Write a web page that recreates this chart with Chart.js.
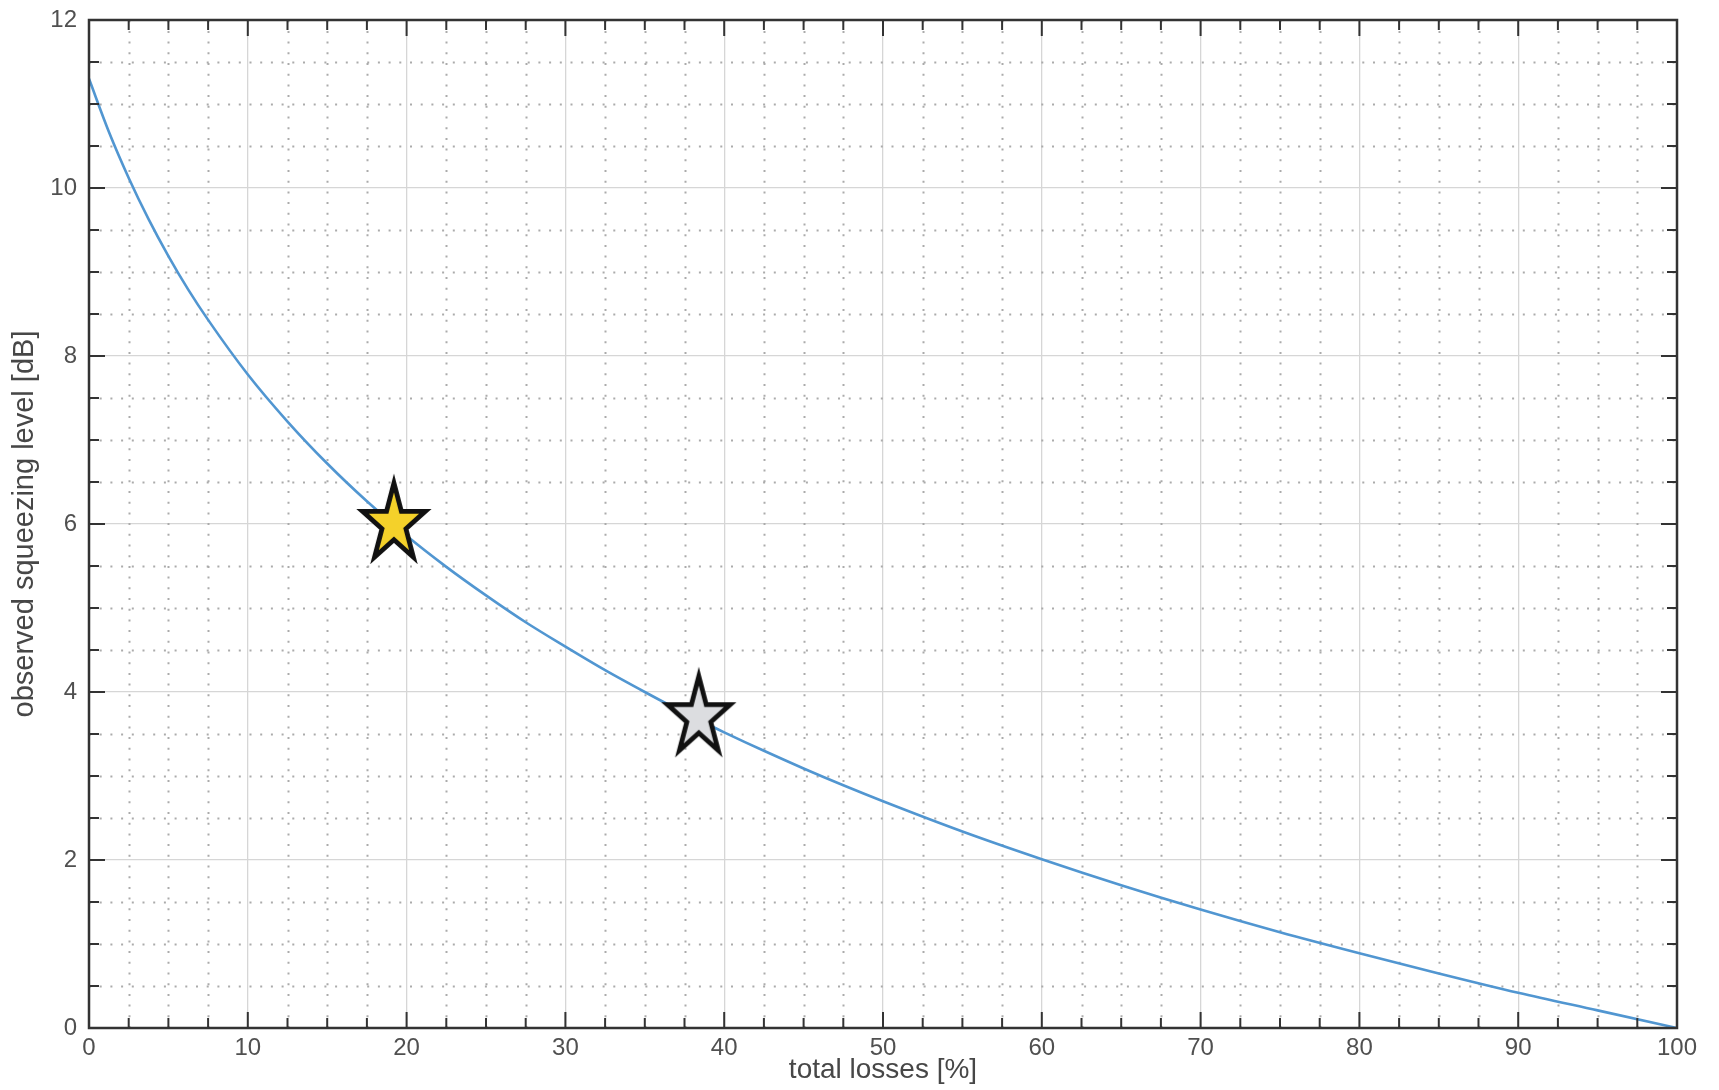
<!DOCTYPE html>
<html>
<head>
<meta charset="utf-8">
<script src="https://cdn.jsdelivr.net/npm/chart.js@4.4.1/dist/chart.umd.min.js"></script>
<style>
    html, body { margin: 0; padding: 0; background: #fff; }
    #wrap { width: 1719px; height: 1090px; position: relative; }
</style>
</head>
<body>
<div id="wrap"><canvas id="lossChart"></canvas></div>
<script>
// Values
const lossPct = [0, 1.25, 2.5, 3.75, 5, 6.25, 7.5, 10, 12.5, 15, 17.5, 20, 22.5, 25, 27.5, 30, 32.5, 35, 37.5, 40,
    42.5, 45, 47.5, 50, 55, 60, 65, 70, 75, 80, 85, 90, 95, 100];
const squeezeDb = [11.3, 10.67, 10.12, 9.63, 9.19, 8.79, 8.43, 7.78, 7.22, 6.72, 6.27, 5.86, 5.49, 5.15, 4.83, 4.54, 4.26, 4.0, 3.75, 3.52,
    3.3, 3.09, 2.89, 2.7, 2.34, 2.01, 1.7, 1.41, 1.14, 0.89, 0.65, 0.42, 0.21, 0];

const starLoss = [19.2, 38.4];
const starDb = [6.0, 3.7];
const starFills = ['#f4d12a', '#dcdde0'];

const FONT = "'Liberation Sans', Arial, sans-serif";

// 5-point star marker, a bit taller than wide like the reference
function makeStar(fill) {
    const c = document.createElement('canvas');
    c.width = 100;
    c.height = 110;
    const g = c.getContext('2d');
    const cx = 50, cy = 55, rx = 33, ry = 41, inner = 0.382;
    g.beginPath();
    for (let i = 0; i < 10; i++) {
        const a = -Math.PI / 2 + i * Math.PI / 5;
        const r = i % 2 ? inner : 1;
        const px = cx + rx * r * Math.cos(a);
        const py = cy + ry * r * Math.sin(a);
        if (i === 0) g.moveTo(px, py); else g.lineTo(px, py);
    }
    g.closePath();
    g.fillStyle = fill;
    g.fill();
    g.lineJoin = 'miter';
    g.miterLimit = 10;
    g.lineWidth = 4.8;
    g.strokeStyle = '#111';
    g.stroke();
    return c;
}

// Dotted minor grid, inward ticks on all four sides, and the box
const frameBox = {
    id: 'frameBox',
    beforeDatasetsDraw(chart) {
        const { ctx, chartArea: a, scales: { x, y } } = chart;
        ctx.save();
        ctx.strokeStyle = '#ababab';
        ctx.lineWidth = 2;
        ctx.setLineDash([2, 8.7]);
        for (let v = 2.5; v < 100; v += 2.5) {
            if (v % 10 === 0) continue;
            const px = Math.round(x.getPixelForValue(v)) + 0.5;
            ctx.beginPath();
            ctx.moveTo(px, a.bottom);
            ctx.lineTo(px, a.top);
            ctx.stroke();
        }
        for (let v = 0.5; v < 12; v += 0.5) {
            if (v % 2 === 0) continue;
            const py = Math.round(y.getPixelForValue(v)) + 0.5;
            ctx.beginPath();
            ctx.moveTo(a.left, py);
            ctx.lineTo(a.right, py);
            ctx.stroke();
        }
        ctx.restore();
    },
    afterDatasetsDraw(chart) {
        const { ctx, chartArea: a, scales: { x, y } } = chart;
        ctx.save();
        ctx.strokeStyle = '#333';
        ctx.lineWidth = 2;
        ctx.beginPath();
        for (let v = 0; v <= 100; v += 2.5) {
            const px = x.getPixelForValue(v);
            const len = v % 10 === 0 ? 16 : 10;
            ctx.moveTo(px, a.bottom); ctx.lineTo(px, a.bottom - len);
            ctx.moveTo(px, a.top); ctx.lineTo(px, a.top + len);
        }
        for (let v = 0; v <= 12; v += 0.5) {
            const py = y.getPixelForValue(v);
            const len = v % 2 === 0 ? 16 : 10;
            ctx.moveTo(a.left, py); ctx.lineTo(a.left + len, py);
            ctx.moveTo(a.right, py); ctx.lineTo(a.right - len, py);
        }
        ctx.stroke();
        ctx.lineWidth = 2.5;
        ctx.strokeRect(a.left, a.top, a.right - a.left, a.bottom - a.top);
        ctx.restore();
    }
};

const curve = lossPct.map((v, i) => ({ x: v, y: squeezeDb[i] }));
const starSets = starLoss.map((v, i) => ({
    type: 'scatter',
    data: [{ x: v, y: starDb[i] }],
    pointStyle: makeStar(starFills[i]),
    pointRadius: 10,
    pointHoverRadius: 10,
    order: 0
}));

new Chart(document.getElementById('lossChart'), {
    type: 'line',
    data: {
        datasets: [{
            data: curve,
            borderColor: '#5196d1',
            borderWidth: 2.6,
            pointRadius: 0,
            fill: false,
            cubicInterpolationMode: 'monotone',
            order: 1
        }, ...starSets]
    },
    options: {
        responsive: true,
        maintainAspectRatio: false,
        animation: false,
        layout: { padding: { top: 20, right: 42, left: 0, bottom: 0 } },
        plugins: {
            legend: { display: false },
            tooltip: { enabled: false }
        },
        scales: {
            x: {
                type: 'linear',
                min: 0,
                max: 100,
                afterFit: s => { s.height = 62; },
                border: { display: false },
                grid: { color: '#d6d6d6', lineWidth: 1.3, drawTicks: false },
                ticks: {
                    stepSize: 10,
                    autoSkip: false,
                    maxRotation: 0,
                    padding: 6,
                    color: '#505050',
                    font: { family: FONT, size: 24 }
                },
                title: {
                    display: true,
                    text: 'total losses [%]',
                    color: '#474747',
                    font: { family: FONT, size: 28, lineHeight: 1.2 },
                    padding: { top: 0, bottom: 3 }
                }
            },
            y: {
                type: 'linear',
                min: 0,
                max: 12,
                afterFit: s => { s.width = 89; s.paddingTop = 0; s.paddingBottom = 0; },
                border: { display: false },
                grid: { color: '#d6d6d6', lineWidth: 1.3, drawTicks: false },
                ticks: {
                    stepSize: 2,
                    autoSkip: false,
                    padding: 12,
                    color: '#505050',
                    font: { family: FONT, size: 24 }
                },
                title: {
                    display: true,
                    text: 'observed squeezing level [dB]',
                    color: '#474747',
                    font: { family: FONT, size: 29, lineHeight: 1.2 },
                    padding: { top: 8, bottom: 0 }
                }
            }
        }
    },
    plugins: [frameBox]
});
</script>
</body>
</html>
